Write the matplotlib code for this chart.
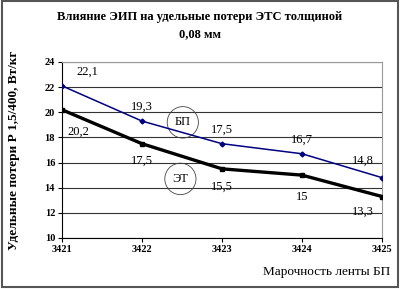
import matplotlib.pyplot as plt
from matplotlib.patches import Ellipse, Rectangle

# data
grades = ['3421', '3422', '3423', '3424', '3425']
bp_vals = [22.1, 19.3, 17.5, 16.7, 14.8]
et_vals = [20.2, 17.5, 15.5, 15, 13.3]
bp_text = ['22,1', '19,3', '17,5', '16,7', '14,8']
et_text = ['20,2', '17,5', '15,5', '15', '13,3']

plt.rcParams['font.family'] = ['Liberation Serif', 'DejaVu Serif']

fig = plt.figure(figsize=(4, 2.89), dpi=100)
ax = fig.add_axes([0.155, 0.1765, 0.80, 0.609])
x = list(range(len(grades)))

ax.plot(x, bp_vals, color='#000080', lw=1.1, marker='D', ms=2.5, zorder=3)
ax.plot(x, et_vals, color='black', lw=2.4, marker='s', ms=3.5, zorder=3)

# value labels
bp_off = [(18, 10), (0, 10), (0, 10), (0, 10), (-14, 12)]
et_off = [(12, -16), (0, -12), (0, -13), (0, -16), (-14, -11)]
for i in x:
    ax.annotate(bp_text[i], (i, bp_vals[i]), xytext=bp_off[i], textcoords='offset points',
                ha='center', va='center', fontsize=9)
    ax.annotate(et_text[i], (i, et_vals[i]), xytext=et_off[i], textcoords='offset points',
                ha='center', va='center', fontsize=9)

# series callouts
ax.add_patch(Ellipse((1.51, 19.2), 0.39, 2.5, fill=False, lw=0.6, color='#444444'))
ax.text(1.51, 19.2, 'БП', ha='center', va='center', fontsize=9)
ax.add_patch(Ellipse((1.48, 14.7), 0.39, 2.5, fill=False, lw=0.6, color='#444444'))
ax.text(1.48, 14.7, 'ЭТ', ha='center', va='center', fontsize=9)

ax.set_xlim(0, 4)
ax.set_ylim(10, 24)
ax.set_yticks(range(10, 25, 2))
ax.set_xticks(x)
ax.set_xticklabels(grades)
ax.grid(axis='y', color='#333333', lw=0.8)
ax.set_axisbelow(True)
for s in ['top', 'right']:
    ax.spines[s].set_color('#999999')
    ax.spines[s].set_linewidth(0.8)
ax.spines['left'].set_linewidth(0.8)
ax.spines['bottom'].set_linewidth(0.8)
ax.tick_params(labelsize=7.5, length=3, width=0.8, pad=2)
for lab in ax.get_xticklabels() + ax.get_yticklabels():
    lab.set_fontweight('bold')

fig.text(0.5, 0.942, 'Влияние ЭИП на удельные потери ЭТС толщиной',
         ha='center', va='center', fontsize=9, fontweight='bold')
fig.text(0.5, 0.882, '0,08 мм', ha='center', va='center', fontsize=9, fontweight='bold')
fig.text(0.035, 0.48, 'Удельные потери Р 1,5/400, Вт/кг', rotation=90,
         ha='center', va='center', fontsize=9.5, fontweight='bold')
fig.text(0.975, 0.06, 'Марочность ленты БП', ha='right', va='center', fontsize=9.5)

fig.patches.append(Rectangle((0.004, 0.006), 0.992, 0.99, transform=fig.transFigure,
                             fill=False, lw=1.5, edgecolor='#555555'))

fig.savefig('out.png', dpi=100)
